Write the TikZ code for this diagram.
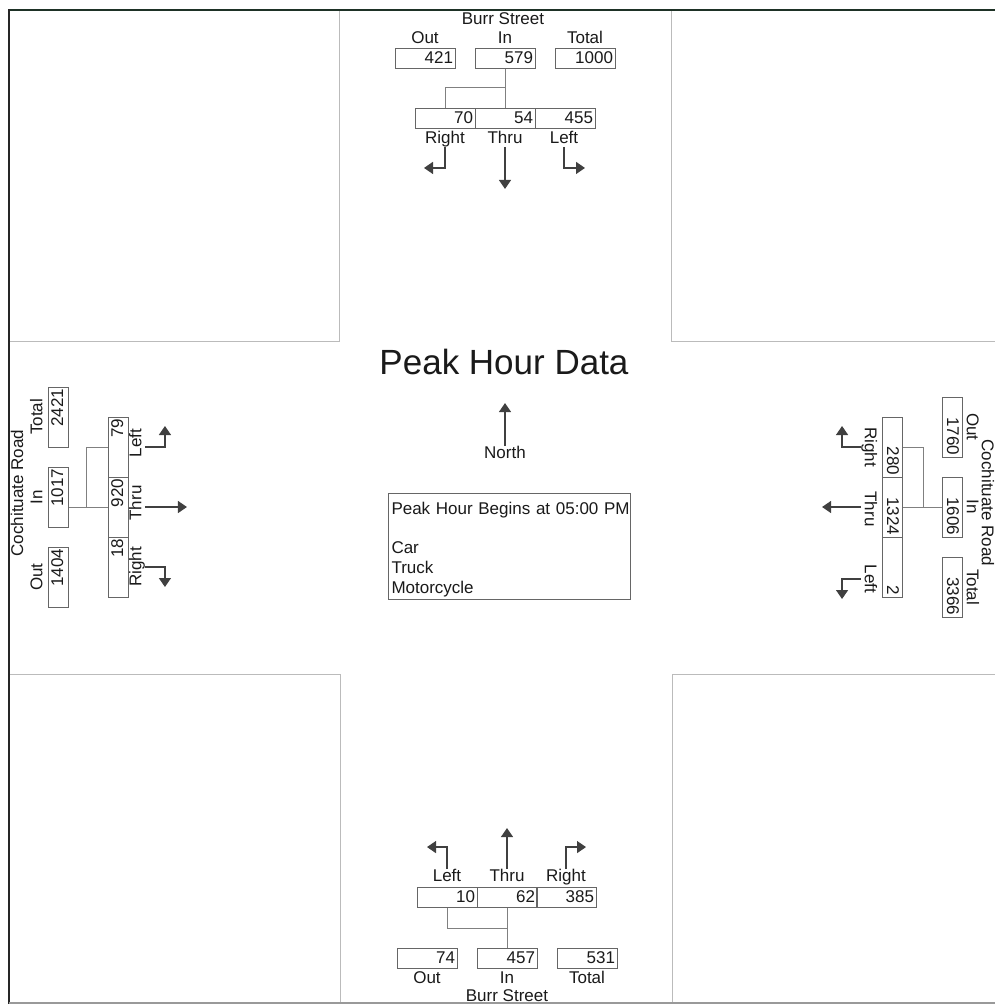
\documentclass[tikz,border=0pt]{standalone}
\usepackage{fontspec}
\setmainfont{Liberation Sans}
\usetikzlibrary{arrows.meta}
\definecolor{txt}{HTML}{1A1A1A}
\definecolor{boxc}{HTML}{666666}
\definecolor{sqc}{HTML}{BBBBBB}
\definecolor{topc}{HTML}{1E3226}
\begin{document}
\begin{tikzpicture}[x=1pt,y=-1pt,
  every node/.style={font=\fontsize{17}{20}\selectfont, text=txt, inner sep=0pt},
  lbl/.style={text height=12pt, text depth=3.5pt},
  nbox/.style={draw=boxc, line width=1pt, minimum height=20pt, text width=56pt,
    inner xsep=2pt, inner ysep=0pt, align=right, text height=12pt, text depth=2pt},
  conn/.style={draw=black!50, line width=1pt},
  arr/.style={draw=black!75, line width=1.3pt, -{Triangle[width=12pt,length=9pt]}},
  sq/.style={draw=sqc, line width=1pt}
]
\useasboundingbox (0,0) rectangle (995,1005);
\fill[white] (0,0) rectangle (995,1005);
% corner squares
\draw[sq] (339,10) -- (339,341) -- (9,341);
\draw[sq] (671,10) -- (671,341) -- (995,341);
\draw[sq] (9,674) -- (340,674) -- (340,1003);
\draw[sq] (995,674) -- (672,674) -- (672,1003);
% frame
\draw[line width=2pt, topc] (8,10) -- (995,10);
\draw[line width=2pt, black!85] (9,9) -- (9,1004);
\draw[line width=1.5pt, black!40] (9,1003) -- (995,1003);

% ---------- top ----------
\node[lbl] (tname) at (503,20) {Burr Street};
\node[lbl] (toutl) at (425,39) {Out};
\node[lbl] (tinl) at (505,39) {In};
\node[lbl] (ttotl) at (585,39) {Total};
\node[nbox] (tout) at (425,58) {421};
\node[nbox] (tin) at (505,58) {579};
\node[nbox] (ttot) at (585,58) {1000};
\node[nbox] (tr) at (445,118) {70};
\node[nbox] (tt) at (505,118) {54};
\node[nbox] (tl) at (565,118) {455};
\node[lbl] (trl) at (445,139) {Right};
\node[lbl] (ttl) at (505,139) {Thru};
\node[lbl] (tll) at (564,139) {Left};
\draw[conn] (tt.north |- tin.south) -- (tt.north);
\draw[conn] (tr.north) -- ++(0,-20) -| (tt.north);
\draw[arr] (trl.south) -- ++(0,21) -- ++(-21,0);
\draw[arr] (ttl.south) -- ++(0,42);
\draw[arr] (tll.south) -- ++(0,21) -- ++(21,0);

% ---------- bottom ----------
\node[lbl] (bname) at (507,997) {Burr Street};
\node[lbl] (boutl) at (427,979) {Out};
\node[lbl] (binl) at (507,979) {In};
\node[lbl] (btotl) at (587,979) {Total};
\node[nbox] (bout) at (427,958) {74};
\node[nbox] (bin) at (507,958) {457};
\node[nbox] (btot) at (587,958) {531};
\node[nbox] (bl) at (447,897) {10};
\node[nbox] (bt) at (507,897) {62};
\node[nbox] (br) at (566,897) {385};
\node[lbl] (bll) at (447,877) {Left};
\node[lbl] (btl) at (507,877) {Thru};
\node[lbl] (brl) at (566,877) {Right};
\draw[conn] (bt.south) -- (bt.south |- bin.north);
\draw[conn] (bl.south) -- ++(0,21) -| (bt.south);
\draw[arr] (bll.north) -- ++(0,-22) -- ++(-20,0);
\draw[arr] (btl.north) -- ++(0,-41);
\draw[arr] (brl.north) -- ++(0,-22) -- ++(20,0);

% ---------- left ----------
\node[lbl, rotate=90] (lname) at (19,493) {Cochituate Road};
\node[lbl, rotate=90] (ltotl) at (38,417) {Total};
\node[lbl, rotate=90] (linl) at (38,497) {In};
\node[lbl, rotate=90] (loutl) at (38,577) {Out};
\node[nbox, rotate=90] (ltot) at (58,417) {2421};
\node[nbox, rotate=90] (lin) at (58,497) {1017};
\node[nbox, rotate=90] (lout) at (58,577) {1404};
\node[nbox, rotate=90] (ll) at (118,447) {79};
\node[nbox, rotate=90] (lt) at (118,507) {920};
\node[nbox, rotate=90] (lr) at (118,567) {18};
\node[lbl, rotate=90] (lll) at (137,443) {Left};
\node[lbl, rotate=90] (ltl) at (137,503) {Thru};
\node[lbl, rotate=90] (lrl) at (137,567) {Right};
\draw[conn] (lin.south |- lt.north) -- (lt.north);
\draw[conn] (ll.north) -- ++(-21,0) |- (lt.north);
\draw[arr] (lll.south |- ll.center) -- ++(20,0) -- ++(0,-21);
\draw[arr] (ltl.south |- lt.center) -- ++(42,0);
\draw[arr] (lrl.south) -- ++(20,0) -- ++(0,20);

% ---------- right ----------
\node[lbl, rotate=-90] (rname) at (986,503) {Cochituate Road};
\node[lbl, rotate=-90] (routl) at (971,427) {Out};
\node[lbl, rotate=-90] (rinl) at (971,507) {In};
\node[lbl, rotate=-90] (rtotl) at (971,587) {Total};
\node[nbox, rotate=-90] (rout) at (952,427) {1760};
\node[nbox, rotate=-90] (rin) at (952,507) {1606};
\node[nbox, rotate=-90] (rtot) at (952,587) {3366};
\node[nbox, rotate=-90] (rr) at (892,447) {280};
\node[nbox, rotate=-90] (rt) at (892,507) {1324};
\node[nbox, rotate=-90] (rl) at (892,567) {2};
\node[lbl, rotate=-90] (rrl) at (869,447) {Right};
\node[lbl, rotate=-90] (rtl) at (869,509) {Thru};
\node[lbl, rotate=-90] (rll) at (869,579) {Left};
\draw[conn] (rt.north) -- (rt.north -| rin.south);
\draw[conn] (rr.north) -- ++(21,0) |- (rt.north);
\draw[arr] (rrl.south |- rr.center) -- ++(-19,0) -- ++(0,-21);
\draw[arr] (rtl.south |- rt.center) -- ++(-39,0);
\draw[arr] (rll.south) -- ++(-19,0) -- ++(0,20);

% ---------- centre ----------
\node[font=\fontsize{35}{40}\selectfont] (title) at (504,362) {Peak Hour Data};
\node[lbl] (north) at (505,454) {North};
\draw[arr] (north.north) -- ++(0,-43);
\node[draw=boxc, line width=1pt, anchor=north west, text width=242pt, inner xsep=0pt,
  inner ysep=3pt, minimum height=105pt, align=left, font=\fontsize{17}{19.7}\selectfont]
  (info) at (388,493) {\mbox{\rule{0pt}{18pt}\hspace*{3pt}Peak Hour Begins at 05:00 PM}\\[19.7pt]\hspace*{3pt}Car\\\hspace*{3pt}Truck\\\hspace*{3pt}Motorcycle};
\end{tikzpicture}
\end{document}
